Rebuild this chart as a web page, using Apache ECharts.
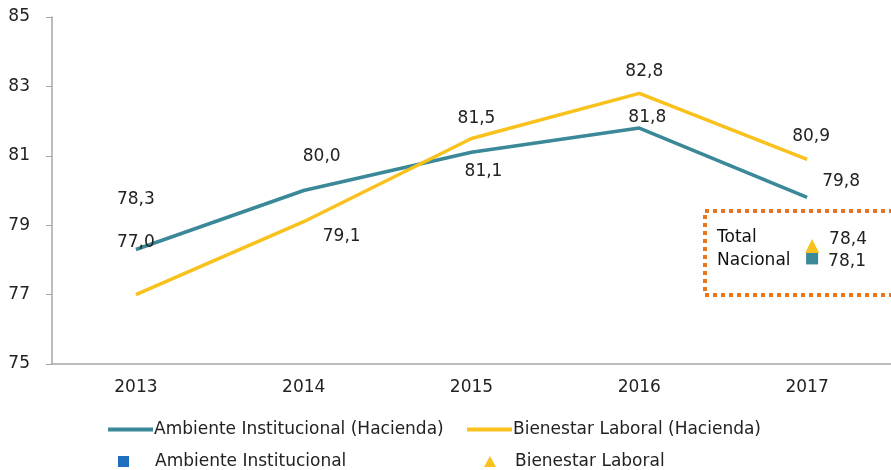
<!DOCTYPE html>
<html><head><meta charset="utf-8">
<script src="https://cdn.jsdelivr.net/npm/echarts@6/dist/echarts.min.js"></script>
<style>html,body{margin:0;padding:0;background:#fff}#c{width:891px;height:470px}</style>
</head><body><div id="c"></div>
<script>
const years = ['2013','2014','2015','2016','2017'];
const ambiente = [78.3, 80.0, 81.1, 81.8, 79.8];
const bienestar = [77.0, 79.1, 81.5, 82.8, 80.9];
const totalAmbiente = 78.1;
const totalBienestar = 78.4;
const yTicks = [75, 77, 79, 81, 83, 85];

const ambOffsets = [[0,-50],[18,-34],[12,19],[8,-10],[34,-16]];
const bieOffsets = [[0,-52],[38,15],[5,-20],[5,-22],[4,-23]];

const TEAL = '#3A8898', YELLOW = '#F8C11C', LEG_BLUE = '#1F6EBE';
const numFont = 'DejaVu Sans', txtFont = 'DejaVu Sans';
const fmt = v => v.toFixed(1).replace('.', ',');

function withLabels(vals, offs) {
  return vals.map((v, i) => ({ value: v, label: { offset: offs[i] } }));
}

const legText = { fontSize: 17, fontFamily: txtFont, color: '#222' };
const chart = echarts.init(document.getElementById('c'));
chart.setOption({
  animation: false,
  grid: { left: 52, right: 0, top: 17, bottom: 106, containLabel: false },
  xAxis: {
    type: 'category', data: years, boundaryGap: true,
    axisLine: { lineStyle: { color: '#A6A6A6', width: 1.5 } },
    axisTick: { show: false },
    axisLabel: { color: '#222', fontSize: 17, fontFamily: numFont, margin: 15 }
  },
  yAxis: {
    type: 'value', min: yTicks[0], max: yTicks[yTicks.length - 1], interval: 2,
    splitLine: { show: false },
    axisLine: { show: true, lineStyle: { color: '#A6A6A6', width: 1.5 } },
    axisTick: { show: true, length: 6, inside: false, lineStyle: { color: '#A6A6A6' } },
    axisLabel: { color: '#222', fontSize: 17, fontFamily: numFont, margin: 22 }
  },
  legend: [
    { left: 103, top: 416, itemWidth: 45, itemHeight: 4,
      data: [{ name: 'Ambiente Institucional (Hacienda)', icon: 'rect' }],
      textStyle: Object.assign({ padding: [0,0,0,-4] }, legText) },
    { left: 462, top: 416, itemWidth: 45, itemHeight: 4,
      data: [{ name: 'Bienestar Laboral (Hacienda)', icon: 'rect' }],
      textStyle: Object.assign({ padding: [0,0,0,-4] }, legText) },
    { left: 113, top: 448, itemWidth: 11, itemHeight: 11,
      data: [{ name: 'Ambiente Institucional', icon: 'rect', itemStyle: { color: LEG_BLUE } }],
      textStyle: Object.assign({ padding: [0,0,0,21] }, legText) },
    { left: 479, top: 448, itemWidth: 12, itemHeight: 11,
      data: [{ name: 'Bienestar Laboral', icon: 'triangle' }],
      textStyle: Object.assign({ padding: [0,0,0,14] }, legText) }
  ],
  graphic: [
    { type: 'rect', shape: { x: 705, y: 211, width: 200, height: 84 },
      style: { fill: 'none', stroke: '#E8741E', lineWidth: 4, lineDash: [4, 4] }, z: 10 },
    { type: 'text', left: 717, top: 229, style: { text: 'Total', font: '17px "DejaVu Sans"', fill: '#111' }, z: 10 },
    { type: 'text', left: 717, top: 252, style: { text: 'Nacional', font: '17px "DejaVu Sans"', fill: '#111' }, z: 10 }
  ],
  series: [
    { name: 'Ambiente Institucional (Hacienda)', type: 'line',
      data: withLabels(ambiente, ambOffsets),
      symbol: 'circle', symbolSize: 0, showSymbol: true,
      lineStyle: { color: TEAL, width: 3.5 }, itemStyle: { color: TEAL },
      label: { show: true, position: 'inside', formatter: p => fmt(p.value), color: '#222', fontSize: 17, fontFamily: numFont } },
    { name: 'Bienestar Laboral (Hacienda)', type: 'line',
      data: withLabels(bienestar, bieOffsets),
      symbol: 'circle', symbolSize: 0, showSymbol: true,
      lineStyle: { color: YELLOW, width: 3.5 }, itemStyle: { color: YELLOW },
      label: { show: true, position: 'inside', formatter: p => fmt(p.value), color: '#222', fontSize: 17, fontFamily: numFont } },
    { name: 'Ambiente Institucional', type: 'scatter',
      data: [[years[4], totalAmbiente]], symbol: 'rect', symbolSize: 12, symbolOffset: [5, 2],
      itemStyle: { color: TEAL, opacity: 1 }, z: 11,
      label: { show: true, position: 'right', distance: 10, offset: [0, 3], formatter: p => fmt(p.value[1]), color: '#222', fontSize: 17, fontFamily: numFont } },
    { name: 'Bienestar Laboral', type: 'scatter',
      data: [[years[4], totalBienestar]], symbol: 'triangle', symbolSize: 14, symbolOffset: [5, 0],
      itemStyle: { color: YELLOW, opacity: 1 }, z: 12,
      label: { show: true, position: 'right', distance: 10, offset: [0, -6], formatter: p => fmt(p.value[1]), color: '#222', fontSize: 17, fontFamily: numFont } }
  ]
});
</script></body></html>
